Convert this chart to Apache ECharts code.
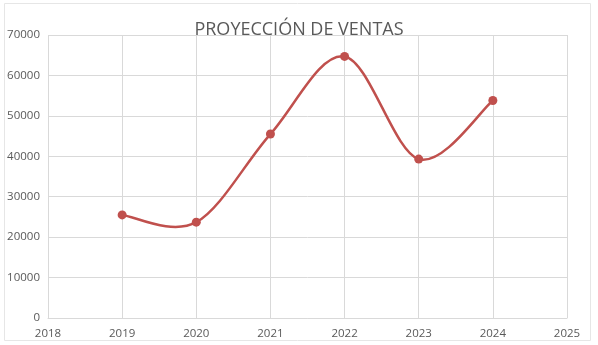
<!DOCTYPE html>
<html>
<head>
<meta charset="utf-8">
<script src="https://cdn.jsdelivr.net/npm/echarts@6/dist/echarts.min.js"></script>
<style>
  html, body { margin: 0; padding: 0; background: #fff; }
  #chart { width: 598px; height: 345px; }
</style>
</head>
<body>
<div id="chart"></div>
<script>
const years = [2019, 2020, 2021, 2022, 2023, 2024]
const ventas = [25500, 23700, 45500, 64700, 39300, 53800]
const titleText = 'PROYECCIÓN DE VENTAS'

const chart = echarts.init(document.getElementById('chart'))
const textColor = '#595959'
const gridColor = '#d9d9d9'
const lineColor = '#c0504d'
const points = years.map((y, i) => [y, ventas[i]])

// excel-like spline: catmull-rom segments drawn between pixel coords from the axes
const renderSegment = (params, api) => {
  const i = params.dataIndex
  if (i >= points.length - 1) return
  const p = k => api.coord(points[Math.max(0, Math.min(points.length - 1, k))])
  const p0 = p(i - 1), p1 = p(i), p2 = p(i + 1), p3 = p(i + 2)
  return {
    type: 'bezierCurve',
    shape: {
      x1: p1[0], y1: p1[1],
      x2: p2[0], y2: p2[1],
      cpx1: p1[0] + (p2[0] - p0[0]) / 6,
      cpy1: p1[1] + (p2[1] - p0[1]) / 6,
      cpx2: p2[0] - (p3[0] - p1[0]) / 6,
      cpy2: p2[1] - (p3[1] - p1[1]) / 6
    },
    style: { stroke: lineColor, lineWidth: 2.5, fill: null }
  }
}

chart.setOption({
  animation: false,
  title: {
    text: titleText,
    left: 'center',
    top: 16,
    textStyle: {
      color: textColor,
      fontSize: 18,
      fontWeight: 'normal',
      fontFamily: 'Open Sans'
    }
  },
  graphic: [{
    type: 'rect',
    shape: { x: 4.5, y: 3.5, width: 586, height: 337 },
    style: { fill: 'none', stroke: '#e6e6e6', lineWidth: 1 },
    z: -1
  }],
  grid: {
    left: 48,
    right: 31,
    top: 35,
    bottom: 27
  },
  xAxis: {
    type: 'value',
    min: 2018,
    max: 2025,
    interval: 1,
    axisLine: { show: true, lineStyle: { color: gridColor } },
    axisTick: { show: false },
    splitLine: { show: true, lineStyle: { color: gridColor } },
    axisLabel: {
      color: textColor,
      fontSize: 11.5,
      fontFamily: 'Open Sans',
      margin: 10,
      formatter: v => String(v)
    }
  },
  yAxis: {
    type: 'value',
    min: 0,
    max: 70000,
    interval: 10000,
    axisLine: { show: false },
    axisTick: { show: false },
    splitLine: { lineStyle: { color: gridColor } },
    axisLabel: {
      color: textColor,
      fontSize: 11.5,
      fontFamily: 'Open Sans',
      margin: 8,
      formatter: v => String(v)
    }
  },
  series: [{
    type: 'custom',
    data: points,
    renderItem: renderSegment,
    z: 2
  }, {
    type: 'scatter',
    data: points,
    symbol: 'circle',
    symbolSize: 9,
    itemStyle: { color: lineColor, opacity: 1 },
    z: 3
  }]
})
</script>
</body>
</html>
